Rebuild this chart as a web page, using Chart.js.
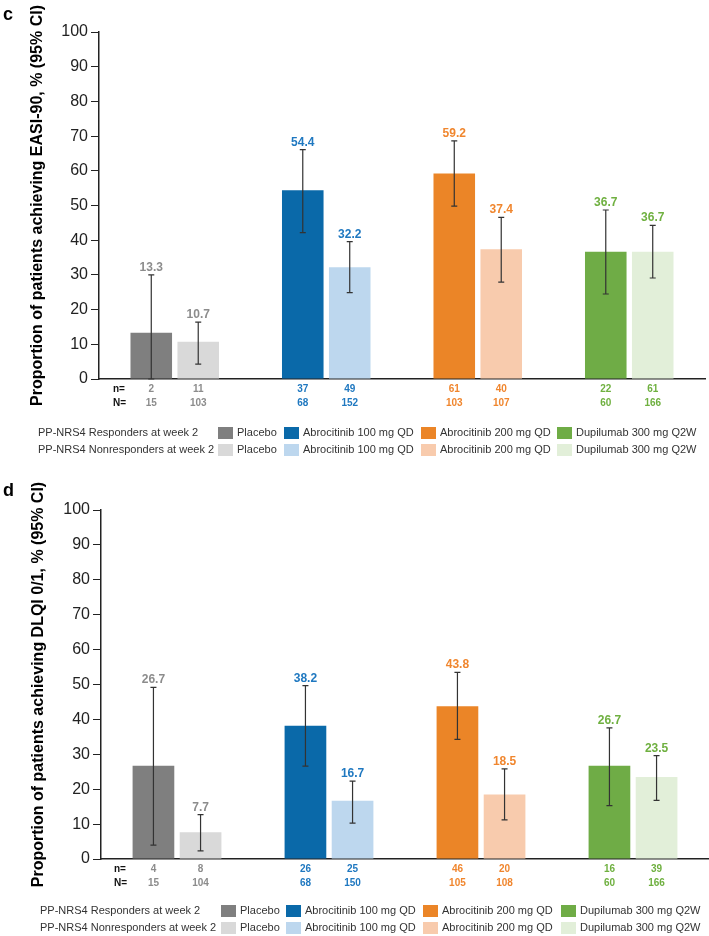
<!DOCTYPE html>
<html>
<head>
<meta charset="utf-8">
<script src="https://cdn.jsdelivr.net/npm/chart.js@4.4.1/dist/chart.umd.min.js"></script>
<style>
  body { margin: 0; background: #fff; }
  #wrap { position: relative; width: 709px; height: 936px; }
  canvas { position: absolute; left: 0; }
</style>
</head>
<body>
<div id="wrap">
  <canvas id="chartC" width="709" height="472" style="top:0"></canvas>
  <canvas id="chartD" width="709" height="464" style="top:472px"></canvas>
</div>
<script>
// treatment groups
const groups = ['Placebo', 'Abrocitinib 100 mg QD', 'Abrocitinib 200 mg QD', 'Dupilumab 300 mg Q2W'];

// panel c: EASI-90
const easiResp = [13.3, 54.4, 59.2, 36.7];
const easiRespLo = [0, 42.2, 49.8, 24.5];
const easiRespHi = [30.0, 66.1, 68.6, 48.7];
const easiNonresp = [10.7, 32.2, 37.4, 36.7];
const easiNonrespLo = [4.3, 24.9, 27.9, 29.1];
const easiNonrespHi = [16.4, 39.6, 46.6, 44.3];
const easiResp_n = [2, 37, 61, 22];
const easiResp_N = [15, 68, 103, 60];
const easiNonresp_n = [11, 49, 40, 61];
const easiNonresp_N = [103, 152, 107, 166];

// panel d: DLQI 0/1
const dlqiResp = [26.7, 38.2, 43.8, 26.7];
const dlqiRespLo = [4.0, 26.6, 34.3, 15.3];
const dlqiRespHi = [49.2, 49.7, 53.5, 37.6];
const dlqiNonresp = [7.7, 16.7, 18.5, 23.5];
const dlqiNonrespLo = [2.3, 10.3, 11.2, 16.8];
const dlqiNonrespHi = [12.7, 22.3, 25.8, 29.6];
const dlqiResp_n = [4, 26, 46, 16];
const dlqiResp_N = [15, 68, 105, 60];
const dlqiNonresp_n = [8, 25, 20, 39];
const dlqiNonresp_N = [104, 150, 108, 166];

const yTicks = [0, 10, 20, 30, 40, 50, 60, 70, 80, 90, 100];
const rowLabels = ['PP-NRS4 Responders at week 2', 'PP-NRS4 Nonresponders at week 2'];

const respColors = ['#7f7f7f', '#0a69a9', '#eb8527', '#6fac46'];
const nonrespColors = ['#d9d9d9', '#bdd7ee', '#f8cbad', '#e2efd9'];
const textColors = ['#8c8c8c', '#1f78c0', '#f0862e', '#6fb040'];
const FONT = '"Liberation Sans", Arial, Helvetica, sans-serif';

const panelPlugin = {
  id: 'panel',
  afterDatasetsDraw(chart, args, opts) {
    const ctx = chart.ctx;
    const y = chart.scales.y;
    const area = chart.chartArea;
    ctx.save();

    // error bars, value labels, n / N rows
    opts.series.forEach((s, di) => {
      const meta = chart.getDatasetMeta(di);
      meta.data.forEach((bar, i) => {
        const top = y.getPixelForValue(s.hi[i]);
        const bot = y.getPixelForValue(s.lo[i]);
        ctx.strokeStyle = '#333';
        ctx.lineWidth = 1.2;
        ctx.beginPath();
        ctx.moveTo(bar.x, top); ctx.lineTo(bar.x, bot);
        ctx.moveTo(bar.x - 3, top); ctx.lineTo(bar.x + 3, top);
        ctx.moveTo(bar.x - 3, bot); ctx.lineTo(bar.x + 3, bot);
        ctx.stroke();

        ctx.fillStyle = textColors[i];
        ctx.textAlign = 'center';
        ctx.textBaseline = 'alphabetic';
        ctx.font = 'bold 12px ' + FONT;
        ctx.fillText(s.values[i].toFixed(1), bar.x, top - 4);

        ctx.font = 'bold 10px ' + FONT;
        ctx.textBaseline = 'middle';
        ctx.fillText(String(s.n[i]), bar.x, area.bottom + opts.nOff);
        ctx.fillText(String(s.N[i]), bar.x, area.bottom + opts.NOff);
      });
    });

    ctx.fillStyle = '#111';
    ctx.textAlign = 'left';
    ctx.textBaseline = 'middle';
    ctx.font = 'bold 10px ' + FONT;
    ctx.fillText('n=', opts.nx, area.bottom + opts.nOff);
    ctx.fillText('N=', opts.nx, area.bottom + opts.NOff);

    // legend table
    ctx.font = '11px ' + FONT;
    [respColors, nonrespColors].forEach((cols, r) => {
      const ly = area.bottom + opts.legOff[r];
      ctx.fillStyle = '#333';
      ctx.fillText(rowLabels[r], opts.legLabelX, ly);
      cols.forEach((c, i) => {
        ctx.fillStyle = c;
        ctx.fillRect(opts.swatchX[i], ly - 6, 15, 12);
        ctx.fillStyle = '#333';
        ctx.fillText(groups[i], opts.swatchX[i] + 19, ly);
      });
    });

    // panel letter
    ctx.fillStyle = '#000';
    ctx.font = 'bold 18px ' + FONT;
    ctx.fillText(opts.letter, 3, opts.letterY);

    // y axis title
    ctx.translate(opts.titleX, (area.top + area.bottom) / 2);
    ctx.rotate(-Math.PI / 2);
    ctx.textAlign = 'center';
    ctx.font = 'bold 16px ' + FONT;
    ctx.fillText(opts.title, 0, 0);
    ctx.restore();
  }
};

function makePanel(id, p) {
  return new Chart(document.getElementById(id), {
    type: 'bar',
    data: {
      labels: groups,
      datasets: [
        { label: rowLabels[0], data: p.resp, backgroundColor: respColors },
        { label: rowLabels[1], data: p.nonresp, backgroundColor: nonrespColors }
      ]
    },
    options: {
      responsive: false,
      animation: false,
      categoryPercentage: 0.62,
      barPercentage: 0.885,
      layout: { padding: { top: p.top, right: p.right, left: 0, bottom: 0 } },
      scales: {
        x: {
          grid: { display: false },
          ticks: { display: false },
          border: { color: '#222', width: 1.5 },
          afterFit: (scale) => { scale.height = p.xHeight; }
        },
        y: {
          min: 0,
          max: 100,
          afterBuildTicks: (scale) => { scale.ticks = yTicks.map(v => ({ value: v })); },
          ticks: { color: '#222', font: { family: FONT, size: 16 }, padding: 3 },
          grid: { drawOnChartArea: false, drawTicks: true, tickLength: 8, color: '#222' },
          border: { color: '#222', width: 1.5 },
          afterFit: (scale) => { scale.width = p.yWidth; }
        }
      },
      plugins: {
        legend: { display: false },
        tooltip: { enabled: false },
        panel: {
          series: [
            { values: p.resp, lo: p.respLo, hi: p.respHi, n: p.resp_n, N: p.resp_N },
            { values: p.nonresp, lo: p.nonrespLo, hi: p.nonrespHi, n: p.nonresp_n, N: p.nonresp_N }
          ],
          letter: p.letter, letterY: p.letterY,
          title: p.title, titleX: p.titleX,
          nx: p.nx, nOff: 10, NOff: 24,
          legOff: p.legOff, legLabelX: p.legLabelX, swatchX: p.swatchX
        }
      }
    },
    plugins: [panelPlugin]
  });
}

makePanel('chartC', {
  resp: easiResp, respLo: easiRespLo, respHi: easiRespHi,
  nonresp: easiNonresp, nonrespLo: easiNonrespLo, nonrespHi: easiNonrespHi,
  resp_n: easiResp_n, resp_N: easiResp_N, nonresp_n: easiNonresp_n, nonresp_N: easiNonresp_N,
  top: 32, right: 4, xHeight: 472 - 379, yWidth: 99,
  letter: 'c', letterY: 15,
  title: 'Proportion of patients achieving EASI-90, % (95% CI)', titleX: 38,
  nx: 113, legOff: [54, 71], legLabelX: 38, swatchX: [218, 284, 421, 557]
});

makePanel('chartD', {
  resp: dlqiResp, respLo: dlqiRespLo, respHi: dlqiRespHi,
  nonresp: dlqiNonresp, nonrespLo: dlqiNonrespLo, nonrespHi: dlqiNonrespHi,
  resp_n: dlqiResp_n, resp_N: dlqiResp_N, nonresp_n: dlqiNonresp_n, nonresp_N: dlqiNonresp_N,
  top: 38, right: 0, xHeight: 464 - 387, yWidth: 101,
  letter: 'd', letterY: 19,
  title: 'Proportion of patients achieving DLQI 0/1, % (95% CI)', titleX: 39,
  nx: 114, legOff: [52, 69], legLabelX: 40, swatchX: [221, 286, 423, 561]
});
</script>
</body>
</html>
